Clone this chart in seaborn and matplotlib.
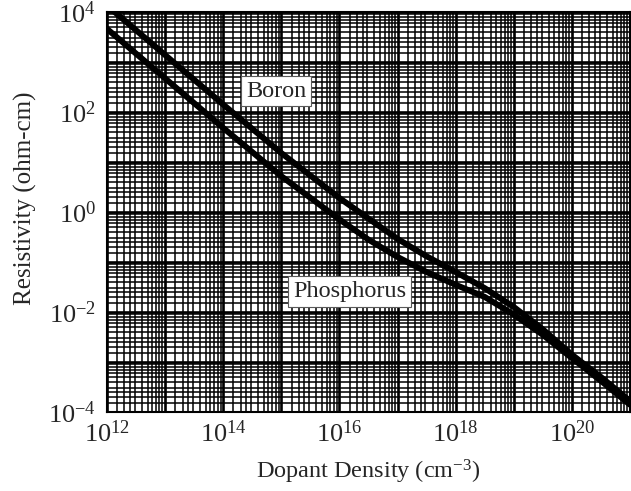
import numpy as np
import pandas as pd
import matplotlib
matplotlib.use("Agg")
import matplotlib.pyplot as plt
import seaborn as sns
from matplotlib.ticker import LogLocator, FixedLocator, FuncFormatter, NullFormatter

# dopant density (cm^-3) and resistivity (ohm-cm)
density = [1e12, 1e13, 1e14, 1e15, 1e16, 3.16e16, 1e17, 3.16e17,
           1e18, 3.16e18, 1e19, 3.16e19, 1e20, 3.16e20, 1e21]
boron = [1.35e4, 1.38e3, 141, 15.1, 1.9, 0.74, 0.29, 0.13,
         0.063, 0.030, 0.0126, 0.0045, 0.0014, 5.0e-4, 1.66e-4]
phosphorus = [4.6e3, 470, 48, 5.2, 0.71, 0.28, 0.126, 0.063,
              0.035, 0.020, 0.0089, 0.0035, 0.0012, 4.2e-4, 1.4e-4]

x_decades = [10.0 ** e for e in range(12, 22)]
y_decades = [10.0 ** e for e in range(-4, 5)]

df = pd.concat([
    pd.DataFrame({"density": density, "resistivity": boron, "dopant": "Boron"}),
    pd.DataFrame({"density": density, "resistivity": phosphorus, "dopant": "Phosphorus"}),
])

sns.set_style("white")
plt.rcParams["font.family"] = ["Liberation Serif", "DejaVu Serif"]
plt.rcParams["mathtext.fontset"] = "custom"
plt.rcParams["mathtext.rm"] = "Liberation Serif"
plt.rcParams["mathtext.it"] = "Liberation Serif:italic"

fig = plt.figure(figsize=(6.31, 4.91), dpi=100)
ax = fig.add_axes([107 / 631, 1 - 412 / 491, 523 / 631, 400 / 491])

sns.lineplot(data=df, x="density", y="resistivity", hue="dopant",
             palette=["black", "black"], legend=False, lw=4.3, ax=ax)

ax.set_xscale("log")
ax.set_yscale("log")
ax.set_xlim(1e12, 1e21)
ax.set_ylim(1e-4, 1e4)


def fmt(v, p):
    e = int(round(np.log10(v)))
    return r"$10^{%d}$" % e if e % 2 == 0 else ""


subs = [1.5, 2, 2.5, 3, 4, 5, 6, 7, 8, 9]
for axis, dec in ((ax.xaxis, x_decades), (ax.yaxis, y_decades)):
    axis.set_major_locator(FixedLocator(dec))
    axis.set_minor_locator(LogLocator(base=10, subs=subs, numticks=200))
    axis.set_major_formatter(FuncFormatter(fmt))
    axis.set_minor_formatter(NullFormatter())

ax.grid(which="major", color="black", lw=1.9)
ax.grid(which="minor", color="black", lw=1.1)
ax.set_axisbelow(True)
ax.tick_params(which="both", length=0, labelsize=19)
ax.tick_params(axis="x", pad=6)
ax.tick_params(axis="y", pad=8)
for s in ax.spines.values():
    s.set_color("black")
    s.set_linewidth(1.5)

ax.set_xlabel("Dopant Density (cm$^{-3}$)", fontsize=17.5, labelpad=8)
ax.set_ylabel("Resistivity (ohm-cm)", fontsize=18)
ax.yaxis.set_label_coords(-0.133, 0.535)

box = dict(boxstyle="square,pad=0.2", fc="white", ec="0.35", lw=0.8)
ax.text(8.1e14, 263, "Boron", fontsize=17.5, ha="center", va="center", bbox=box)
ax.text(1.5e16, 0.026, "Phosphorus", fontsize=17.5, ha="center", va="center", bbox=box)

fig.savefig("out.png", dpi=100)
